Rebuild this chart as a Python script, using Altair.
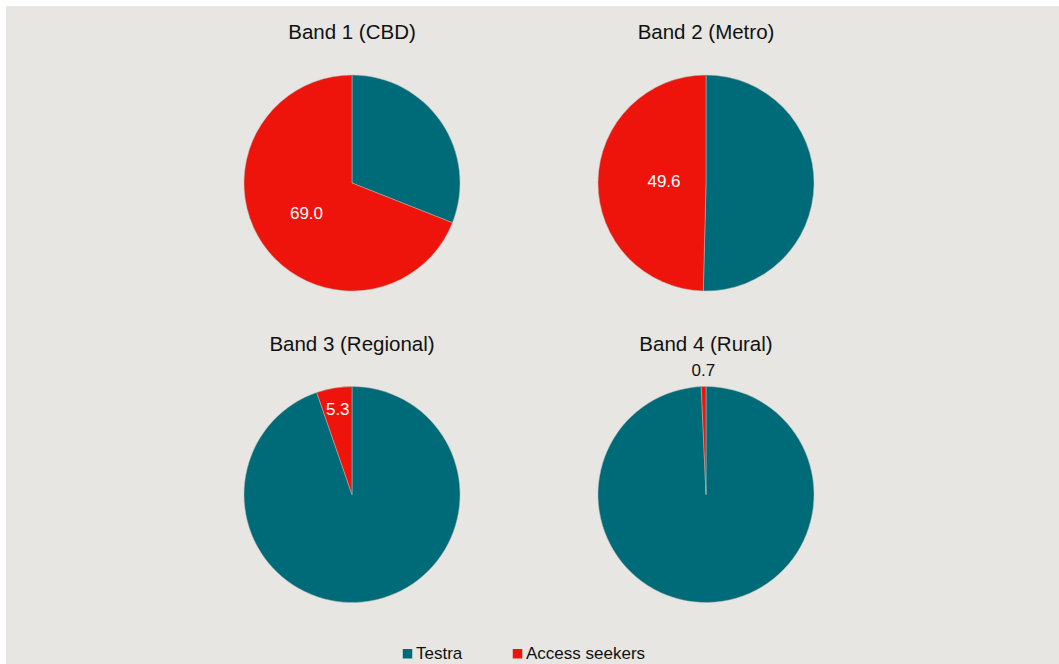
import altair as alt
import pandas as pd

bands = ["Band 1 (CBD)", "Band 2 (Metro)", "Band 3 (Regional)", "Band 4 (Rural)"]
series = ["Testra", "Access seekers"]
testra = [31.0, 50.4, 94.7, 99.3]
access = [69.0, 49.6, 5.3, 0.7]

TEAL = "#006B78"
RED = "#EE130B"
BG = "#E7E6E2"
FONT = "Liberation Sans"

rows = []
for i, b in enumerate(bands):
    for j, (s, v) in enumerate(zip(series, [testra[i], access[i]])):
        rows.append({"band": b, "bi": i, "col": i % 2, "row": i // 2,
                     "series": s, "ord": j, "value": v})
df = pd.DataFrame(rows)

base = alt.Chart(df).transform_window(
    end="sum(value)", groupby=["band"], sort=[alt.SortField("ord")],
    frame=[None, 0]
).transform_calculate(
    start="datum.end - datum.value",
    mid="datum.end - datum.value / 2",
    lr="datum.bi == 0 ? 55 : datum.bi == 1 ? 42 : datum.bi == 2 ? 86 : 124",
    lab="datum.series == 'Access seekers' ? format(datum.value, '.1f') : ''"
)

X = alt.X("col:Q", scale=alt.Scale(domain=[0, 1], range=[346, 700], nice=False, zero=False), axis=None)
Y = alt.Y("row:Q", scale=alt.Scale(domain=[0, 1], range=[177, 488.5], nice=False, zero=False), axis=None)
TH = alt.Scale(domain=[0, 100], range=[0, 6.283185307])

arcs = base.mark_arc(outerRadius=108, stroke="#B8B8B4", strokeWidth=0.5).encode(
    x=X, y=Y,
    theta=alt.Theta("start:Q", scale=TH),
    theta2="end:Q",
    color=alt.Color("series:N",
                    scale=alt.Scale(domain=series, range=[TEAL, RED]),
                    legend=alt.Legend(title=None, orient="none", direction="horizontal",
                                      legendX=393, legendY=639, padding=0,
                                      symbolType="square", symbolSize=90,
                                      symbolStrokeWidth=0, labelFont=FONT,
                                      labelFontSize=17, labelColor="#111111",
                                      labelOffset=0, columnPadding=46)),
)

labels = base.mark_text(font=FONT, fontSize=17, align="center", baseline="middle").encode(
    x=X, y=Y,
    theta=alt.Theta("mid:Q", scale=TH),
    radius=alt.Radius("lr:Q", scale=None),
    text="lab:N",
    color=alt.condition("datum.bi == 3", alt.value("#111111"), alt.value("white")),
)

titles = base.transform_filter("datum.ord == 0").mark_text(
    font=FONT, fontSize=20.5, align="center", baseline="middle", dy=-150, color="#111111"
).encode(x=X, y=Y, text="band:N")

chart = alt.layer(arcs, labels, titles).properties(
    width=1053, height=658,
    padding={"left": 6, "top": 6, "right": 0, "bottom": 0},
    autosize=alt.AutoSizeParams(type="none"),
    background="white",
).configure_view(fill=BG, stroke=None)

chart.save("out.html", embed_options={"renderer": "svg", "actions": False})
